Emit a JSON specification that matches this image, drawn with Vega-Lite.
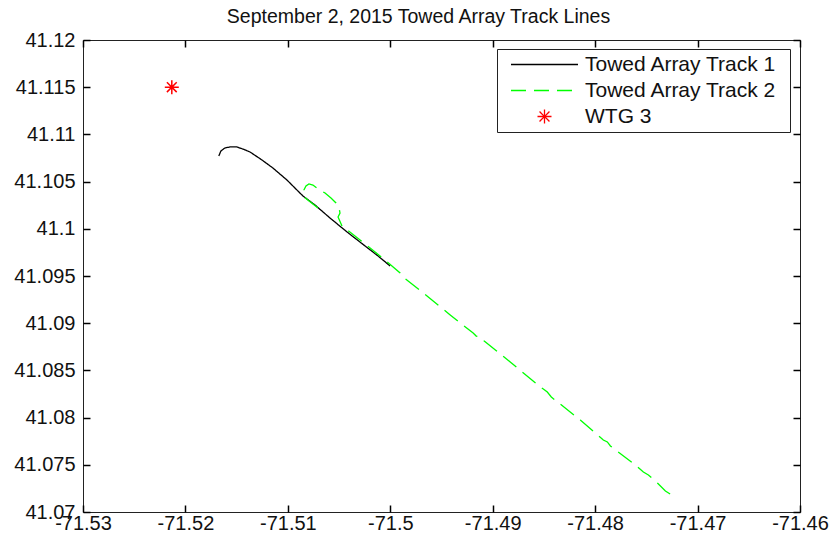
{
  "$schema": "https://vega.github.io/schema/vega-lite/v6.json",
  "autosize": {"type": "none"},
  "width": 717,
  "height": 472,
  "padding": {"left": 83, "top": 40, "right": 30, "bottom": 30},
  "background": "white",
  "title": {
    "text": "September 2, 2015 Towed Array Track Lines",
    "font": "Liberation Sans",
    "fontSize": 19.5,
    "fontWeight": "normal",
    "color": "#111",
    "anchor": "middle",
    "dx": -23,
    "dy": 25,
    "offset": 9,
    "baseline": "bottom"
  },
  "config": {
    "view": {"stroke": "#222", "strokeWidth": 1},
    "axis": {
      "grid": false,
      "domain": false,
      "minExtent": 0,
      "ticks": true,
      "tickColor": "#000",
      "tickWidth": 1.5,
      "tickSize": -7,
      "labelFont": "Liberation Sans",
      "labelFontSize": 20,
      "labelColor": "#111",
      "title": null
    }
  },
  "datasets": {
    "tracks": [
      {"series": "Towed Array Track 1", "i": 1, "lon": -71.51674, "lat": 41.10771},
      {"series": "Towed Array Track 1", "i": 2, "lon": -71.51654, "lat": 41.10824},
      {"series": "Towed Array Track 1", "i": 3, "lon": -71.51615, "lat": 41.10856},
      {"series": "Towed Array Track 1", "i": 4, "lon": -71.51566, "lat": 41.10867},
      {"series": "Towed Array Track 1", "i": 5, "lon": -71.51498, "lat": 41.10867},
      {"series": "Towed Array Track 1", "i": 6, "lon": -71.51439, "lat": 41.10845},
      {"series": "Towed Array Track 1", "i": 7, "lon": -71.51370, "lat": 41.10814},
      {"series": "Towed Array Track 1", "i": 8, "lon": -71.51253, "lat": 41.10729},
      {"series": "Towed Array Track 1", "i": 9, "lon": -71.51146, "lat": 41.10644},
      {"series": "Towed Array Track 1", "i": 10, "lon": -71.51009, "lat": 41.10517},
      {"series": "Towed Array Track 1", "i": 11, "lon": -71.50931, "lat": 41.10432},
      {"series": "Towed Array Track 1", "i": 12, "lon": -71.50852, "lat": 41.10347},
      {"series": "Towed Array Track 1", "i": 13, "lon": -71.50735, "lat": 41.10252},
      {"series": "Towed Array Track 1", "i": 14, "lon": -71.50588, "lat": 41.10114},
      {"series": "Towed Array Track 1", "i": 15, "lon": -71.50422, "lat": 41.09966},
      {"series": "Towed Array Track 1", "i": 16, "lon": -71.50246, "lat": 41.09818},
      {"series": "Towed Array Track 1", "i": 17, "lon": -71.50119, "lat": 41.09712},
      {"series": "Towed Array Track 1", "i": 18, "lon": -71.50002, "lat": 41.09606},
      {"series": "Towed Array Track 2", "i": 1, "lon": -71.50706, "lat": 41.10220},
      {"series": "Towed Array Track 2", "i": 2, "lon": -71.50852, "lat": 41.10347},
      {"series": "Towed Array Track 2", "i": 3, "lon": -71.50843, "lat": 41.10411},
      {"series": "Towed Array Track 2", "i": 4, "lon": -71.50823, "lat": 41.10453},
      {"series": "Towed Array Track 2", "i": 5, "lon": -71.50794, "lat": 41.10475},
      {"series": "Towed Array Track 2", "i": 6, "lon": -71.50755, "lat": 41.10464},
      {"series": "Towed Array Track 2", "i": 7, "lon": -71.50706, "lat": 41.10422},
      {"series": "Towed Array Track 2", "i": 8, "lon": -71.50637, "lat": 41.10379},
      {"series": "Towed Array Track 2", "i": 9, "lon": -71.50579, "lat": 41.10326},
      {"series": "Towed Array Track 2", "i": 10, "lon": -71.50530, "lat": 41.10273},
      {"series": "Towed Array Track 2", "i": 11, "lon": -71.50500, "lat": 41.10220},
      {"series": "Towed Array Track 2", "i": 12, "lon": -71.50491, "lat": 41.10167},
      {"series": "Towed Array Track 2", "i": 13, "lon": -71.50510, "lat": 41.10125},
      {"series": "Towed Array Track 2", "i": 14, "lon": -71.50471, "lat": 41.10030},
      {"series": "Towed Array Track 2", "i": 15, "lon": -71.50295, "lat": 41.09881},
      {"series": "Towed Array Track 2", "i": 16, "lon": -71.50100, "lat": 41.09712},
      {"series": "Towed Array Track 2", "i": 17, "lon": -71.49904, "lat": 41.09532},
      {"series": "Towed Array Track 2", "i": 18, "lon": -71.49875, "lat": 41.09489},
      {"series": "Towed Array Track 2", "i": 19, "lon": -71.49689, "lat": 41.09331},
      {"series": "Towed Array Track 2", "i": 20, "lon": -71.49415, "lat": 41.09087},
      {"series": "Towed Array Track 2", "i": 21, "lon": -71.49191, "lat": 41.08896},
      {"series": "Towed Array Track 2", "i": 22, "lon": -71.49161, "lat": 41.08864},
      {"series": "Towed Array Track 2", "i": 23, "lon": -71.49122, "lat": 41.08854},
      {"series": "Towed Array Track 2", "i": 24, "lon": -71.49083, "lat": 41.08811},
      {"series": "Towed Array Track 2", "i": 25, "lon": -71.48829, "lat": 41.08589},
      {"series": "Towed Array Track 2", "i": 26, "lon": -71.48536, "lat": 41.08324},
      {"series": "Towed Array Track 2", "i": 27, "lon": -71.48506, "lat": 41.08303},
      {"series": "Towed Array Track 2", "i": 28, "lon": -71.48467, "lat": 41.08271},
      {"series": "Towed Array Track 2", "i": 29, "lon": -71.48428, "lat": 41.08218},
      {"series": "Towed Array Track 2", "i": 30, "lon": -71.48145, "lat": 41.07975},
      {"series": "Towed Array Track 2", "i": 31, "lon": -71.47920, "lat": 41.07763},
      {"series": "Towed Array Track 2", "i": 32, "lon": -71.47881, "lat": 41.07742},
      {"series": "Towed Array Track 2", "i": 33, "lon": -71.47851, "lat": 41.07699},
      {"series": "Towed Array Track 2", "i": 34, "lon": -71.47812, "lat": 41.07667},
      {"series": "Towed Array Track 2", "i": 35, "lon": -71.47607, "lat": 41.07498},
      {"series": "Towed Array Track 2", "i": 36, "lon": -71.47529, "lat": 41.07424},
      {"series": "Towed Array Track 2", "i": 37, "lon": -71.47480, "lat": 41.07392},
      {"series": "Towed Array Track 2", "i": 38, "lon": -71.47392, "lat": 41.07307},
      {"series": "Towed Array Track 2", "i": 39, "lon": -71.47314, "lat": 41.07222},
      {"series": "Towed Array Track 2", "i": 40, "lon": -71.47236, "lat": 41.07169}
    ],
    "wtg": [
      {"series": "WTG 3", "lon": -71.52133, "lat": 41.115}
    ]
  },
  "resolve": {"axis": {"x": "independent", "y": "independent"}},
  "layer": [
    {
      "data": {"name": "tracks"},
      "mark": {"type": "line", "strokeWidth": 1.3, "clip": true},
      "encoding": {
        "x": {
          "field": "lon", "type": "quantitative",
          "scale": {"domain": [-71.53, -71.46], "nice": false, "zero": false},
          "axis": {
            "orient": "bottom",
            "values": [-71.53, -71.52, -71.51, -71.5, -71.49, -71.48, -71.47, -71.46],
            "format": "~g",
            "labelExpr": "replace(datum.label, '\u2212', '-')",
            "ticks": true,
            "tickSize": -7,
            "tickColor": "#000",
            "tickWidth": 1.5,
            "labelPadding": 8,
            "labelFlush": false,
            "labelOverlap": false
          }
        },
        "y": {
          "field": "lat", "type": "quantitative",
          "scale": {"domain": [41.07, 41.12], "nice": false, "zero": false},
          "axis": {
            "orient": "left",
            "values": [41.07, 41.075, 41.08, 41.085, 41.09, 41.095, 41.1, 41.105, 41.11, 41.115, 41.12],
            "format": "~g",
            "ticks": true,
            "tickSize": -7,
            "tickColor": "#000",
            "tickWidth": 1.5,
            "labelPadding": 15,
            "labelFlush": false,
            "labelOverlap": false
          }
        },
        "order": {"field": "i", "type": "quantitative"},
        "color": {
          "field": "series", "type": "nominal",
          "scale": {
            "domain": ["Towed Array Track 1", "Towed Array Track 2", "WTG 3"],
            "range": ["#000000", "#00ff00", "#ff0000"]
          },
          "legend": {
            "title": "\u00a0",
            "titleOrient": "right",
            "titlePadding": 9,
            "titleFontSize": 20,
            "padding": 4,
            "orient": "none",
            "legendX": 414,
            "legendY": 9,
            "strokeColor": "#222",
            "fillColor": "white",
            "cornerRadius": 0,
            "symbolSize": 144,
            "symbolOffset": 33,
            "symbolStrokeWidth": 1.3,
            "clipHeight": 23,
            "rowPadding": 3,
            "labelOffset": 30,
            "labelFont": "Liberation Sans",
            "labelFontSize": 21,
            "labelColor": "#111",
            "labelLimit": 400,
            "encode": {
              "symbols": {
                "update": {
                  "shape": {"signal": "datum.value === 'WTG 3' ? 'M-1.167,0H1.167M0,-1.167V1.167M-0.825,-0.825L0.825,0.825M-0.825,0.825L0.825,-0.825' : 'M-5.583,0H5.583'"},
                  "strokeDash": {"signal": "datum.value === 'Towed Array Track 2' ? [15, 8] : [1, 0]"},
                  "fill": {"value": "transparent"}
                }
              }
            }
          }
        },
        "strokeDash": {
          "condition": {"test": "datum.series === 'Towed Array Track 2'", "value": [17, 8]},
          "value": [1, 0]
        }
      }
    },
    {
      "data": {"name": "wtg"},
      "mark": {
        "type": "point",
        "shape": "M-1,0H1M0,-1V1M-0.7,-0.7L0.7,0.7M-0.7,0.7L0.7,-0.7",
        "size": 196,
        "strokeWidth": 1.5,
        "filled": false,
        "opacity": 1
      },
      "encoding": {
        "x": {
          "field": "lon", "type": "quantitative",
          "axis": {"orient": "top", "labels": false, "ticks": true, "tickSize": -7, "tickColor": "#000", "tickWidth": 1.5, "values": [-71.53, -71.52, -71.51, -71.5, -71.49, -71.48, -71.47, -71.46]}
        },
        "y": {
          "field": "lat", "type": "quantitative",
          "axis": {"orient": "right", "labels": false, "ticks": true, "tickSize": -7, "tickColor": "#000", "tickWidth": 1.5, "values": [41.07, 41.075, 41.08, 41.085, 41.09, 41.095, 41.1, 41.105, 41.11, 41.115, 41.12]}
        },
        "color": {"field": "series", "type": "nominal", "legend": null}
      }
    }
  ]
}
